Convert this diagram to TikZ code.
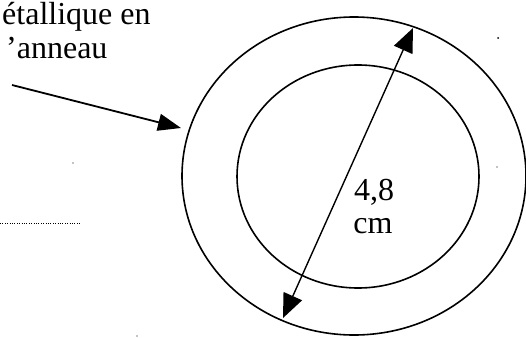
\documentclass[tikz,border=0pt]{standalone}
\usepackage{fontspec}
\setmainfont{Liberation Serif}
\usetikzlibrary{arrows.meta}
\begin{document}
\begin{tikzpicture}[x=1pt,y=-1pt,
  ring/.style={line width=1.6pt},
  lbl/.style={font=\fontsize{32}{37}\selectfont, inner sep=0pt},
  dim/.style={line width=1.4pt, {Triangle[length=24pt,width=20pt]}-{Triangle[length=24pt,width=20pt]}},
  ptr/.style={line width=1.8pt, -{Triangle[length=23pt,width=17pt]}},
  dotline/.style={line width=1pt, dash pattern=on 0.8pt off 1.6pt},
  speck/.style={fill=black}]
\useasboundingbox (0,0) rectangle (526,337);
\clip (0,0) rectangle (526,337);
% rings
\draw[ring] (354,176) ellipse [x radius=172, y radius=159];
\draw[ring] (358,176.5) ellipse [x radius=121, y radius=111.5];
% dimension arrow
\coordinate (dA) at (283,318);
\coordinate (dB) at (413,28);
\draw[dim] (dA) -- (dB);
% pointer arrow
\coordinate (p0) at (12,85);
\coordinate (p1) at (181,128);
\draw[ptr] (p0) -- (p1);
% texts
\node[lbl, anchor=base west] (t1) at (2,25) {étallique en};
\node[lbl, anchor=base west] (t2) at (6,59) {’anneau};
\node[lbl, anchor=base] (d1) at (374,200) {4,8};
\node[lbl, anchor=base] (d2) at (373,233) {cm};
% dotted line
\coordinate (q0) at (0,223);
\coordinate (q1) at (80,223);
\draw[dotline] (q0) -- (q1);
% specks
\fill[speck] (498,38) circle (1);
\fill[speck] (497,167) circle (0.7);
\fill[speck] (73,163) circle (0.7);
\fill[speck] (137,336) circle (0.7);
\end{tikzpicture}
\end{document}
